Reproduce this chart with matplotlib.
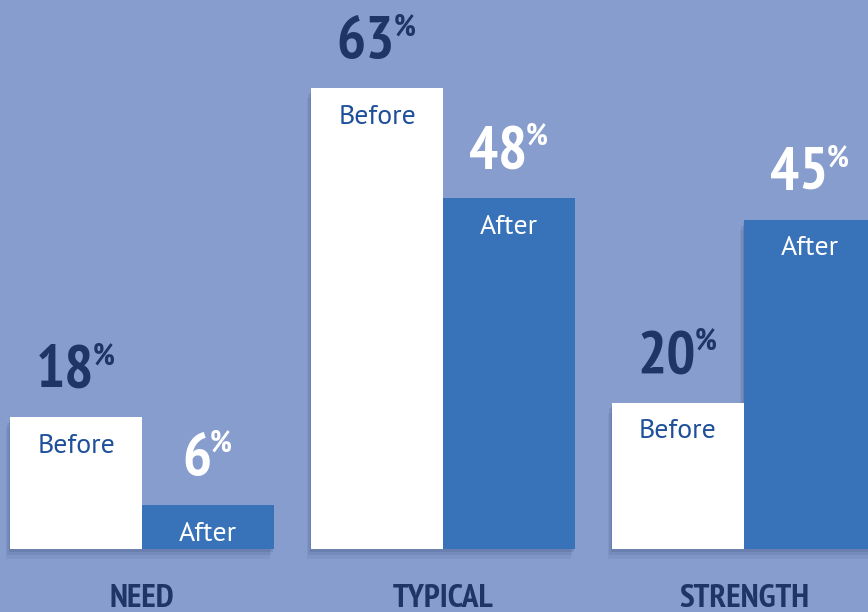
import matplotlib.pyplot as plt
import matplotlib.patheffects as pe

# Data
categories = ['NEED', 'TYPICAL', 'STRENGTH']
series_names = ['Before', 'After']
before = [18, 63, 20]
after = [6, 48, 45]

# Style
BG = '#879dcd'
AFTER_BLUE = '#3872b8'
NAVY = '#1f3566'
BEFORE_TXT = '#1d4f9a'
COND = ['PT Sans Narrow', 'Fira Sans Condensed', 'DejaVu Sans']
REG = ['PT Sans', 'DejaVu Sans']
W = 0.4385

fig = plt.figure(figsize=(8.68, 6.12), dpi=100)
fig.patch.set_facecolor(BG)
ax = fig.add_axes([0, 0, 1, 1])
ax.set_facecolor(BG)
ax.set_xlim(-0.4718, 2.412)
ax.set_ylim(-8.62, 75.1)
ax.axis('off')

# soft drop shadow built from a few stacked offsets
shadow = [pe.SimplePatchShadow(offset=(-1, -2), shadow_rgbFace='#24325e', alpha=0.12),
          pe.SimplePatchShadow(offset=(-2, -4), shadow_rgbFace='#24325e', alpha=0.10),
          pe.SimplePatchShadow(offset=(-3, -7), shadow_rgbFace='#24325e', alpha=0.07),
          pe.Normal()]

x = list(range(len(categories)))
# after bars first so the before bars sit on top of their shadows
ax.bar([i + W / 2 for i in x], after, width=W, color=AFTER_BLUE, linewidth=0,
       path_effects=shadow)
ax.bar([i - W / 2 for i in x], before, width=W, color='white', linewidth=0,
       path_effects=shadow)


def value_label(xc, val, color):
    num = ax.annotate(f'{val}', xy=(xc, val), xytext=(-8, 22),
                      textcoords='offset points', ha='center', va='baseline',
                      fontsize=44, fontweight='bold', color=color, family=COND)
    ax.annotate('%', xy=(1, 1), xycoords=num, xytext=(-1, 2),
                textcoords='offset points', ha='left', va='top',
                fontsize=22, fontweight='bold', color=color, family=COND)


for i, (b, a) in enumerate(zip(before, after)):
    xb, xa = i - W / 2, i + W / 2
    value_label(xb, b, NAVY)
    value_label(xa, a, 'white')
    ax.annotate(series_names[0], xy=(xb, b), xytext=(0, -25.5),
                textcoords='offset points', ha='center', va='baseline',
                fontsize=20, color=BEFORE_TXT, family=REG)
    ax.annotate(series_names[1], xy=(xa, a), xytext=(0, -25.5),
                textcoords='offset points', ha='center', va='baseline',
                fontsize=20, color='white', family=REG)
    ax.annotate(categories[i], xy=(i, 0), xytext=(0, -25),
                textcoords='offset points', ha='center', va='top',
                fontsize=24, fontweight='bold', color=NAVY, family=COND)

plt.savefig('out.png', dpi=100, facecolor=BG)
